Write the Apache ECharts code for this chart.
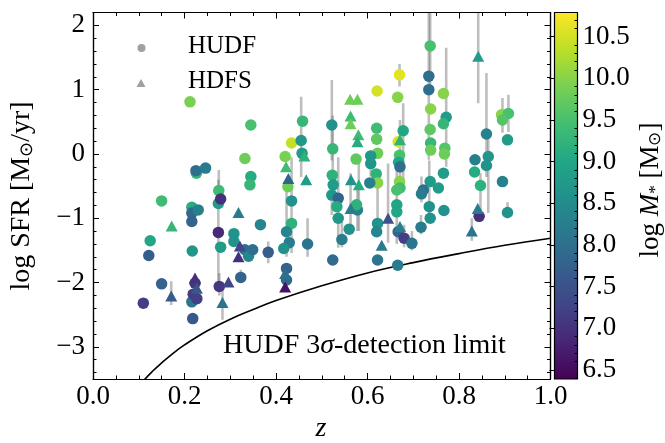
<!DOCTYPE html>
<html><head><meta charset="utf-8">
<script src="https://cdn.jsdelivr.net/npm/echarts@6/dist/echarts.min.js"></script>
<style>html,body{margin:0;padding:0;background:#fff}#c{width:665px;height:443px}</style>
</head><body><div id="c"></div>
<script>
// ---- HUDF (circles): redshift, log SFR, log M*, error-bar low/high ends (null = none visible)
const hudfZ = [0.212,0.345,0.332,0.226,0.225,0.246,0.345,0.343,0.275,0.434,0.420,0.150,0.274,0.279,0.216,0.216,0.216,0.230,0.366,0.125,
 0.274,0.308,0.308,0.122,0.217,0.279,0.332,0.340,0.349,0.383,0.150,0.110,0.223,0.216,0.219,0.227,0.218,0.276,0.323,0.737,
 0.670,0.621,0.734,0.734,0.766,0.666,0.738,0.458,0.522,0.772,0.766,0.737,0.738,0.738,0.620,0.620,0.622,0.678,0.667,0.455,
 0.457,0.524,0.769,0.768,0.575,0.607,0.607,0.670,0.668,0.671,0.426,0.523,0.525,0.619,0.622,0.605,0.670,0.671,0.766,0.737,
 0.755,0.722,0.860,0.893,0.908,0.895,0.906,0.864,0.860,0.835,0.834,0.895,0.847,0.767,0.844,0.906,0.434,0.434,0.423,0.429,
 0.417,0.423,0.423,0.469,0.524,0.522,0.536,0.533,0.536,0.544,0.578,0.576,0.560,0.622,0.620,0.622,0.664,0.664,0.664,0.667,
 0.680,0.697,0.666,0.718,0.735,0.737,0.717];
const hudfSfr = [0.81,0.45,-0.07,-0.30,-0.26,-0.22,-0.35,-0.48,-0.57,0.17,-0.04,-0.73,-0.77,-0.70,-0.83,-0.92,-1.05,-0.87,-1.10,-1.35,
 -1.22,-1.24,-1.36,-1.58,-1.51,-1.45,-1.49,-1.59,-1.49,-1.53,-2.02,-2.32,-2.01,-2.30,-2.18,-2.25,-2.56,-2.06,-1.92,1.68,
 1.23,0.98,1.21,1.00,0.94,0.88,0.70,0.51,0.45,0.57,0.47,0.38,0.17,0.06,0.40,0.23,0.01,0.36,0.19,0.21,
 0.01,0.08,0.09,0.00,-0.08,-0.03,-0.15,-0.02,-0.13,-0.20,-0.51,-0.33,-0.48,-0.31,-0.45,-0.45,-0.43,-0.53,-0.30,-0.43,
 -0.53,-0.56,0.31,0.61,0.63,0.53,0.22,-0.04,-0.18,-0.09,-0.28,-0.43,-0.49,-0.88,-0.97,-0.91,-0.73,-1.08,-1.21,-1.38,
 -1.47,-1.78,-1.96,-1.40,-1.65,-0.64,-0.69,-0.82,-1.00,-1.33,-0.87,-0.79,-1.17,-1.08,-1.21,-1.65,-0.79,-0.90,-0.56,-1.21,
 -1.31,-1.39,-1.73,-0.62,-0.82,-1.00,-1.14];
const hudfMass = [9.9,9.5,9.8,9.3,8.0,8.2,9.1,9.3,9.4,10.4,9.9,9.4,8.8,7.0,9.1,7.9,7.8,8.3,8.4,9.0,
 6.9,8.6,8.6,7.7,8.7,8.8,8.0,8.4,8.0,7.7,7.8,7.2,7.1,8.1,7.2,7.2,7.6,7.1,7.8,9.5,
 10.6,10.5,8.0,8.0,10.0,10.0,10.0,9.3,8.6,8.8,9.3,9.7,9.3,9.8,9.4,9.7,9.8,9.0,10.5,8.7,
 8.8,9.3,9.6,9.8,9.7,8.7,8.7,9.5,9.0,8.0,9.8,9.2,8.8,9.2,10.0,8.3,10.0,9.4,8.8,8.8,
 8.8,8.0,8.3,10.0,9.5,9.6,8.8,8.7,8.6,8.3,9.1,8.3,9.2,8.6,7.0,8.6,8.6,9.2,8.4,8.2,
 8.6,7.8,7.9,8.1,7.9,8.7,7.8,9.1,8.7,8.2,8.3,9.2,8.6,8.6,8.4,8.1,9.0,9.0,9.5,7.8,
 7.2,8.1,8.2,8.2,8.6,8.6,8.2];
const hudfLo = [null,null,null,null,null,null,null,null,-0.75,null,null,null,null,null,null,null,null,null,null,null,
 -2.0,null,null,null,null,null,null,null,null,-1.70,null,null,null,null,null,null,null,-2.2,-2.0,1.0,
 1.05,null,-0.09,null,null,null,null,null,-0.1,-0.2,null,null,null,null,null,null,null,-0.45,null,-0.36,
 null,-0.45,null,null,null,null,-0.35,null,null,null,null,null,null,null,null,null,null,null,null,null,
 null,null,-0.36,null,0.34,0.33,null,-0.92,null,null,null,null,-0.9,null,null,-1.0,-1.54,null,-1.6,null,
 null,null,null,-1.6,null,-0.95,-1.46,null,null,-1.45,-1.2,null,null,-1.2,null,null,-1.4,null,null,null,
 -1.45,-1.5,null,-0.75,-1.0,null,-1.25];
const hudfHi = [null,null,null,null,null,null,null,null,-0.25,null,null,null,null,null,null,null,null,null,null,null,
 -0.4,null,null,null,null,null,null,null,null,-1.36,null,null,null,null,null,null,null,-1.85,-1.8,2.3,
 1.40,null,2.3,null,null,null,null,null,1.15,1.65,null,null,null,null,null,null,null,0.79,null,0.89,
 null,0.6,null,null,null,null,0.05,null,null,null,null,null,null,null,null,null,null,null,null,null,
 null,null,1.26,null,0.92,0.87,null,0.3,null,null,null,null,-0.3,null,null,-0.75,-0.05,null,-0.55,null,
 null,null,null,-1.0,null,-0.35,-0.05,null,null,-0.95,-0.5,null,null,-0.5,null,null,-0.1,null,null,null,
 -1.1,-1.2,null,-0.35,-0.1,null,-0.95];

// ---- HDFS (triangles)
const hdfsZ = [0.172,0.318,0.321,0.318,0.171,0.223,0.227,0.296,0.283,0.562,0.578,0.563,0.563,0.580,0.578,0.671,0.462,0.422,0.427,0.466,
 0.564,0.581,0.842,0.841,0.828,0.420,0.420,0.563,0.631,0.645,0.671];
const hdfsSfr = [-1.12,-0.91,-1.43,-1.60,-2.21,-1.93,-2.09,-1.99,-2.31,0.85,0.85,0.59,0.47,0.30,0.19,0.22,-0.03,-0.20,-0.38,-0.40,
 -0.40,-0.48,1.52,-0.85,-1.20,-1.86,-2.07,-0.85,-1.42,-1.00,-1.13];
const hdfsMass = [9.3,8.2,7.3,7.0,7.7,7.0,7.6,7.3,8.1,9.8,9.8,9.4,9.8,9.4,9.1,9.2,9.2,9.4,7.8,8.8,
 8.6,9.1,8.8,8.2,8.1,8.0,6.6,8.2,8.2,7.5,8.3];
const hdfsLo = [null,null,null,null,-2.35,null,null,null,-2.58,null,null,null,null,null,null,-0.40,null,null,null,null,
 null,-1.2,0.79,null,-1.35,null,null,-1.2,null,-1.38,null];
const hdfsHi = [null,null,null,null,-1.98,null,null,null,-2.05,null,null,null,null,null,null,0.53,null,null,null,null,
 null,-0.05,2.3,null,-1.0,null,null,-0.3,null,-0.15,null];

// ---- HUDF 3-sigma detection limit curve
const limZ = [0.10,0.11,0.13,0.15,0.175,0.20,0.25,0.30,0.35,0.40,0.50,0.60,0.70,0.80,0.90,1.00];
const limSfr = [-3.63,-3.53,-3.38,-3.25,-3.10,-2.97,-2.75,-2.57,-2.42,-2.28,-2.05,-1.85,-1.69,-1.55,-1.42,-1.31];

// ---- axis ticks
const xTicks = [0, 0.2, 0.4, 0.6, 0.8, 1.0];
const yTicks = [-3, -2, -1, 0, 1, 2];
const yMinorTicks = [-3.4,-3.2,-2.8,-2.6,-2.4,-2.2,-1.8,-1.6,-1.4,-1.2,-0.8,-0.6,-0.4,-0.2,0.2,0.4,0.6,0.8,1.2,1.4,1.6,1.8];
const cbTicks = [6.5,7.0,7.5,8.0,8.5,9.0,9.5,10.0,10.5];
const cbMinorTicks = [6.4,6.6,6.7,6.8,6.9,7.1,7.2,7.3,7.4,7.6,7.7,7.8,7.9,8.1,8.2,8.3,8.4,8.6,8.7,8.8,8.9,9.1,9.2,9.3,9.4,9.6,9.7,9.8,9.9,10.1,10.2,10.3,10.4,10.6,10.7];
const cbMin = 6.39, cbMax = 10.79;

const viridis = ['#440154','#482475','#414487','#355f8d','#2a788e','#21918c','#22a884','#44bf70','#7ad151','#bddf26','#fde725'];
const FONT = "'Liberation Serif', 'Times New Roman', serif";

const hudfData = hudfZ.map((z,i)=>[z, hudfSfr[i], hudfMass[i]]);
const hdfsData = hdfsZ.map((z,i)=>[z, hdfsSfr[i], hdfsMass[i]]);
const errData = [];
hudfZ.forEach((z,i)=>{ if (hudfLo[i]!==null) errData.push([z, hudfLo[i], hudfHi[i]]); });
hdfsZ.forEach((z,i)=>{ if (hdfsLo[i]!==null) errData.push([z, hdfsLo[i], hdfsHi[i]]); });
const limData = limZ.map((z,i)=>[z, limSfr[i]]);

const chart = echarts.init(document.getElementById('c'), null, {renderer:'canvas'});
const GL = 93, GT = 12.5, GW = 457.5, GH = 366.5;

function mainY(pos, vals, len, labels){
  return {type:'value', gridIndex:0, position:pos, min:-3.5, max:2.2, z:10,
    axisLine:{show:true, onZero:false, lineStyle:{color:'#000', width:1.2}},
    axisTick:{show:true, inside:true, length:len, customValues:vals, lineStyle:{color:'#000', width:1}},
    axisLabel:{show:labels, customValues:vals, margin:8, color:'#000', fontFamily:FONT, fontSize:27,
      formatter:v=>String(Math.round(v)).replace('-','\u2212')},
    splitLine:{show:false}};
}
function mainX(pos, labels){
  return {type:'value', gridIndex:0, position:pos, min:0, max:1, interval:0.2, z:10,
    axisLine:{show:true, onZero:false, lineStyle:{color:'#000', width:1.2}},
    axisTick:{show:true, inside:true, length:6, lineStyle:{color:'#000', width:1}},
    minorTick:{show:true, splitNumber:4, length:3.5, lineStyle:{color:'#000', width:1}},
    axisLabel:{show:labels, margin:4, color:'#000', fontFamily:FONT, fontSize:27, formatter:v=>v.toFixed(1)},
    splitLine:{show:false}, minorSplitLine:{show:false}};
}

const option = {
  animation:false,
  backgroundColor:'#fff',
  grid:[
    {left:GL, top:GT, width:GW, height:GH, containLabel:false},
    {left:554.5, top:GT, width:23, height:GH, containLabel:false}
  ],
  xAxis:[
    mainX('bottom', true),
    mainX('top', false),
    {type:'value', gridIndex:1, min:0, max:1, show:false}
  ],
  yAxis:[
    mainY('left', yTicks, 6, true),
    mainY('left', yMinorTicks, 3.5, false),
    mainY('right', yTicks, 6, false),
    mainY('right', yMinorTicks, 3.5, false),
    {type:'value', gridIndex:1, position:'right', min:cbMin, max:cbMax, z:10,
      axisLine:{show:false},
      axisTick:{show:true, inside:true, length:5, customValues:cbTicks, lineStyle:{color:'#000', width:1}},
      axisLabel:{show:true, customValues:cbTicks, margin:5, color:'#000', fontFamily:FONT, fontSize:27, formatter:v=>v.toFixed(1)},
      splitLine:{show:false}},
    {type:'value', gridIndex:1, position:'right', min:cbMin, max:cbMax, z:10,
      axisLine:{show:false},
      axisTick:{show:true, inside:true, length:3, customValues:cbMinorTicks, lineStyle:{color:'#000', width:1}},
      axisLabel:{show:false}, splitLine:{show:false}}
  ],
  visualMap:{type:'continuous', show:false, min:cbMin, max:cbMax, dimension:2, seriesIndex:[2,3],
    inRange:{color:viridis}},
  series:[
    {type:'custom', xAxisIndex:0, yAxisIndex:0, clip:true, silent:true, z:1, data:errData,
      encode:{x:0, y:[1,2]},
      renderItem:(params, api)=>{
        const a = api.coord([api.value(0), api.value(1)]);
        const b = api.coord([api.value(0), api.value(2)]);
        return {type:'line', shape:{x1:a[0], y1:a[1], x2:b[0], y2:b[1]},
          style:{stroke:'rgba(110,110,110,0.45)', lineWidth:2.6}};
      }},
    {type:'line', xAxisIndex:0, yAxisIndex:0, data:limData, smooth:0.4, showSymbol:false, clip:true, silent:true, z:3,
      lineStyle:{color:'#000', width:1.6}, itemStyle:{color:'#000'}},
    {type:'scatter', name:'HUDF', xAxisIndex:0, yAxisIndex:0, data:hudfData, symbol:'circle', symbolSize:11.5, z:4,
      itemStyle:{opacity:1}},
    {type:'scatter', name:'HDFS', xAxisIndex:0, yAxisIndex:0, data:hdfsData, symbol:'triangle', symbolSize:[12,11], z:4,
      itemStyle:{opacity:1}},
    {type:'custom', xAxisIndex:2, yAxisIndex:4, silent:true, z:2, data:[[0, cbMin, 1, cbMax]],
      renderItem:(params, api)=>{
        const tl = api.coord([api.value(0), api.value(3)]);
        const br = api.coord([api.value(2), api.value(1)]);
        return {type:'rect', shape:{x:tl[0], y:tl[1], width:br[0]-tl[0], height:br[1]-tl[1]},
          style:{fill:new echarts.graphic.LinearGradient(0,1,0,0, viridis.map((c,i)=>({offset:i/(viridis.length-1), color:c}))),
            stroke:'#000', lineWidth:1.2}};
      }}
  ],
  graphic:[
    {type:'circle', shape:{cx:141.5, cy:48, r:4}, style:{fill:'#a0a0a0'}, z:20},
    {type:'polygon', shape:{points:[[141,79],[136.5,87],[145.5,87]]}, style:{fill:'#a0a0a0'}, z:20},
    {type:'text', left:188, top:34, z:20, style:{text:'HUDF', font:"25px 'Liberation Serif'", fill:'#000'}},
    {type:'text', left:188, top:69, z:20, style:{text:'HDFS', font:"25px 'Liberation Serif'", fill:'#000'}},
    {type:'text', x:223, y:346, z:20, style:{text:'HUDF 3{s|\u03C3}-detection limit', textVerticalAlign:'middle',
      font:"28px 'Liberation Serif'", fill:'#000',
      rich:{s:{fontStyle:'italic', fontSize:28, fontFamily:'Liberation Serif', fill:'#000'}}}},
    {type:'text', x:321, y:429, z:20, style:{text:'z', textAlign:'center', textVerticalAlign:'middle',
      font:"italic 28px 'Liberation Serif'", fill:'#000'}},
    {type:'text', x:22, y:196, rotation:Math.PI/2, z:20, style:{text:'log SFR [M{s|\u2299}/yr]', textAlign:'center', textVerticalAlign:'middle',
      font:"28px 'Liberation Serif'", fill:'#000',
      rich:{s:{fontSize:18, fontFamily:'Liberation Serif', verticalAlign:'bottom', fill:'#000'}}}},
    {type:'text', x:651, y:190, rotation:Math.PI/2, z:20, style:{text:'log {i|M}{s|*} [M{s|\u2299}]', textAlign:'center', textVerticalAlign:'middle',
      font:"27px 'Liberation Serif'", fill:'#000',
      rich:{i:{fontStyle:'italic', fontSize:27, fontFamily:'Liberation Serif', fill:'#000'},
            s:{fontSize:17, fontFamily:'Liberation Serif', verticalAlign:'bottom', fill:'#000'}}}}
  ]
};
chart.setOption(option);
</script></body></html>
